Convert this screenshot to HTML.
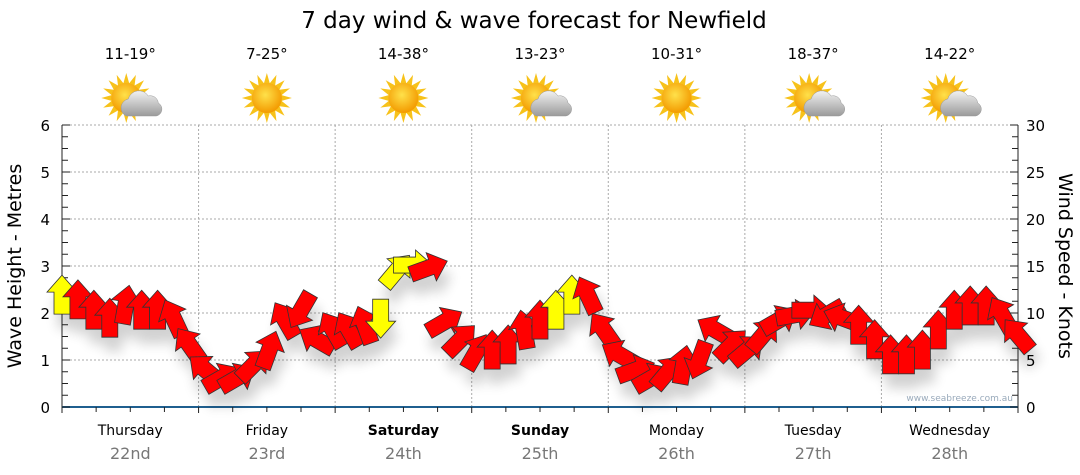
<!DOCTYPE html>
<html><head><meta charset="utf-8"><style>
body{margin:0;background:#fff;width:1080px;height:475px;overflow:hidden;font-family:"DejaVu Sans","Liberation Sans",sans-serif}
svg{display:block}
</style></head><body>
<svg id="chart" width="1080" height="475" xmlns="http://www.w3.org/2000/svg">
<defs>
<radialGradient id="sunG" cx="0.45" cy="0.4" r="0.6"><stop offset="0" stop-color="#ffe14a"/><stop offset="1" stop-color="#f39a00"/></radialGradient>
<linearGradient id="cloudG" x1="0" y1="0" x2="0" y2="1"><stop offset="0" stop-color="#f2f2f2"/><stop offset="1" stop-color="#9a9a9a"/></linearGradient>
<filter id="sh" x="-50%" y="-50%" width="200%" height="200%"><feGaussianBlur in="SourceAlpha" stdDeviation="6"/><feOffset dx="4" dy="14"/><feComponentTransfer><feFuncA type="linear" slope="0.18"/></feComponentTransfer><feMerge><feMergeNode/><feMergeNode in="SourceGraphic"/></feMerge></filter>
</defs>
<text x="534" y="28" font-size="23" text-anchor="middle" fill="#000">7 day wind &amp; wave forecast for Newfield</text>
<g id="grid"></g><g id="axes"></g><g id="icons"></g>
<g id="arrows" filter="url(#sh)"></g>
<text transform="translate(21,266) rotate(-90)" font-size="19" text-anchor="middle">Wave Height - Metres</text>
<text transform="translate(1059,266) rotate(90)" font-size="19" text-anchor="middle">Wind Speed - Knots</text>
<text x="1013" y="401" font-size="9" text-anchor="end" fill="#9ab">www.seabreeze.com.au</text>
</svg>
<script>
const days=["Thursday","Friday","Saturday","Sunday","Monday","Tuesday","Wednesday"];
const dates=["22nd","23rd","24th","25th","26th","27th","28th"];
const boldDays=[false,false,true,true,false,false,false];
const temps=["11-19°","7-25°","14-38°","13-23°","10-31°","18-37°","14-22°"];
const iconTypes=["cloudsun","sun","sun","cloudsun","sun","cloudsun","cloudsun"];
const leftTicks=[0,1,2,3,4,5,6];
const rightTicks=[0,5,10,15,20,25,30];
const waveHeights=[2.38,2.28,2.06,1.89,2.17,2.06,2.06,1.89,1.32,0.79,0.62,0.62,0.89,1.21,1.85,2.06,1.43,1.64,1.64,1.74,1.89,2.9,3.02,2.96,1.81,1.43,1.17,1.21,1.32,1.64,1.85,2.06,2.38,2.38,1.64,1.11,0.79,0.62,0.74,0.89,1.0,1.64,1.32,1.21,1.53,1.85,1.96,2.06,1.96,1.89,1.74,1.43,1.11,1.11,1.21,1.64,2.06,2.15,2.15,1.96,1.53];
const windDirs=[0,0,0,0,10,0,0,-25,-35,-50,60,60,45,20,-30,210,-60,-30,-30,-20,180,40,90,70,60,45,30,0,0,-10,0,0,0,-25,-35,-60,70,60,40,10,200,-60,45,50,40,60,80,90,240,-70,0,0,0,0,0,0,0,0,0,-30,-40];
const windColors=["y","r","r","r","r","r","r","r","r","r","r","r","r","r","r","r","r","r","r","r","y","y","y","r","r","r","r","r","r","r","r","y","y","r","r","r","r","r","r","r","r","r","r","r","r","r","r","r","r","r","r","r","r","r","r","r","r","r","r","r","r"];
const X0=62,X1=1018,Y0=407,Y1=125,NS="http://www.w3.org/2000/svg";
const xs=i=>X0+(X1-X0)*i/(waveHeights.length-1);
const ym=v=>Y0-(Y0-Y1)*v/6;
const yk=v=>Y0-(Y0-Y1)*v/30;
const dayX=d=>X0+(X1-X0)*d/7;
function mk(t,a,p){const e=document.createElementNS(NS,t);for(const k in a)e.setAttribute(k,a[k]);(p||document.getElementById('chart')).appendChild(e);return e;}
const grid=document.getElementById('grid'),axes=document.getElementById('axes');
for(let v=1;v<=6;v++){const l=mk('line',{x1:X0,x2:X1,y1:ym(v),y2:ym(v),stroke:'#aaa','stroke-dasharray':'2,2'},grid);

}
for(let d=1;d<7;d++){const l=mk('line',{x1:dayX(d),x2:dayX(d),y1:Y1,y2:Y0,stroke:'#aaa','stroke-dasharray':'2,2'},grid);

}
mk('line',{x1:X0,x2:X0,y1:Y1,y2:Y0,stroke:'#222'},axes);
mk('line',{x1:X1,x2:X1,y1:Y1,y2:Y0,stroke:'#222'},axes);
mk('line',{x1:X0,x2:X1,y1:Y0,y2:Y0,stroke:'#1f5f8f','stroke-width':2},axes);
for(let k=0;k<=24;k++){const y=Y0-(Y0-Y1)*k/24,w=k%4==0?8:6;
mk('line',{x1:X0,x2:X0+w,y1:y,y2:y,stroke:'#222'},axes);mk('line',{x1:X1-w,x2:X1,y1:y,y2:y,stroke:'#222'},axes);}
leftTicks.forEach(v=>{const t=mk('text',{x:X0-12,y:ym(v)+6,'font-size':15,'text-anchor':'end',fill:'#000'},axes);t.textContent=v;

});
rightTicks.forEach(v=>{const t=mk('text',{x:X1+8,y:yk(v)+6,'font-size':15,fill:'#000'},axes);t.textContent=v;

});
for(let k=0;k<=28;k++){const x=X0+(X1-X0)*k/28;mk('line',{x1:x,x2:x,y1:Y0,y2:Y0+(k%4==0?6:5),stroke:'#222'},axes);}
days.forEach((d,i)=>{const cx=dayX(i+0.5);
const t=mk('text',{x:cx,y:435,'font-size':14,'text-anchor':'middle','font-weight':boldDays[i]?'bold':'normal'});t.textContent=d;


const t2=mk('text',{x:cx,y:459,'font-size':16,'text-anchor':'middle',fill:'#777'});t2.textContent=dates[i];


const t3=mk('text',{x:cx,y:59,'font-size':15,'text-anchor':'middle'});t3.textContent=temps[i];


const g=mk('g',{transform:`translate(${cx+(iconTypes[i]=='sun'?0:-4)},98)`},document.getElementById('icons'));


let pts=[];for(let r=0;r<32;r++){const a=r*Math.PI/16,R=r%2?15:25;pts.push((R*Math.cos(a)).toFixed(1)+','+(R*Math.sin(a)).toFixed(1));}
mk('polygon',{points:pts.join(' '),fill:'#f7c21a'},g);
mk('circle',{r:15,fill:'url(#sunG)'},g);
if(iconTypes[i]=='cloudsun'){const c=mk('g',{transform:'translate(14,6)'},g);
mk('path',{d:'M-14,12 a9,9 0 0 1 2,-17 a11,11 0 0 1 20,-3 a8,8 0 0 1 10,7 a7,7 0 0 1 -2,13 z',fill:'url(#cloudG)',stroke:'#999','stroke-width':0.5},c);}
});
const ag=document.getElementById('arrows');
waveHeights.forEach((v,i)=>{
const g=mk('g',{transform:`translate(${xs(i)},${ym(v)}) rotate(${windDirs[i]})`},ag);


mk('polygon',{points:'-8,19 8,19 8,-3 15,-3 0,-20 -15,-3 -8,-3',fill:windColors[i]=='y'?'#ffff00':'#ff0000',stroke:'#333','stroke-width':0.8},g);
});
</script>
</body></html>
